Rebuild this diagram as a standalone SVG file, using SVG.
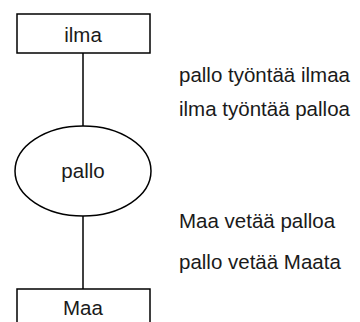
<svg xmlns="http://www.w3.org/2000/svg" width="360" height="322" viewBox="0 0 360 322">
<style>
.n{fill:#fff;stroke:#000;stroke-width:1.5}
.c{stroke:#000;stroke-width:1.5;fill:none}
text{font-family:"Liberation Sans",Arial,sans-serif;font-size:20.5px;fill:#1a1a1a}
.m{text-anchor:middle}
</style>
<rect width="360" height="322" fill="#fff"/>
<g id="connectors">
<line class="c" x1="83" y1="53" x2="83" y2="126"/>
<line class="c" x1="83" y1="216" x2="83" y2="289"/>
</g>
<g id="ilma">
<rect class="n" x="17" y="14" width="133" height="39"/>
<text class="m" x="83" y="41.5">ilma</text>
</g>
<g id="pallo">
<ellipse class="n" cx="83" cy="171" rx="68" ry="45"/>
<text class="m" x="83" y="178">pallo</text>
</g>
<g id="maa">
<rect class="n" x="17" y="289" width="133" height="40"/>
<text class="m" x="83" y="315">Maa</text>
</g>
<g id="labels">
<text x="179" y="81.5">pallo työntää ilmaa</text>
<text x="179" y="116">ilma työntää palloa</text>
<text x="179" y="228">Maa vetää palloa</text>
<text x="179" y="269">pallo vetää Maata</text>
</g>
</svg>
